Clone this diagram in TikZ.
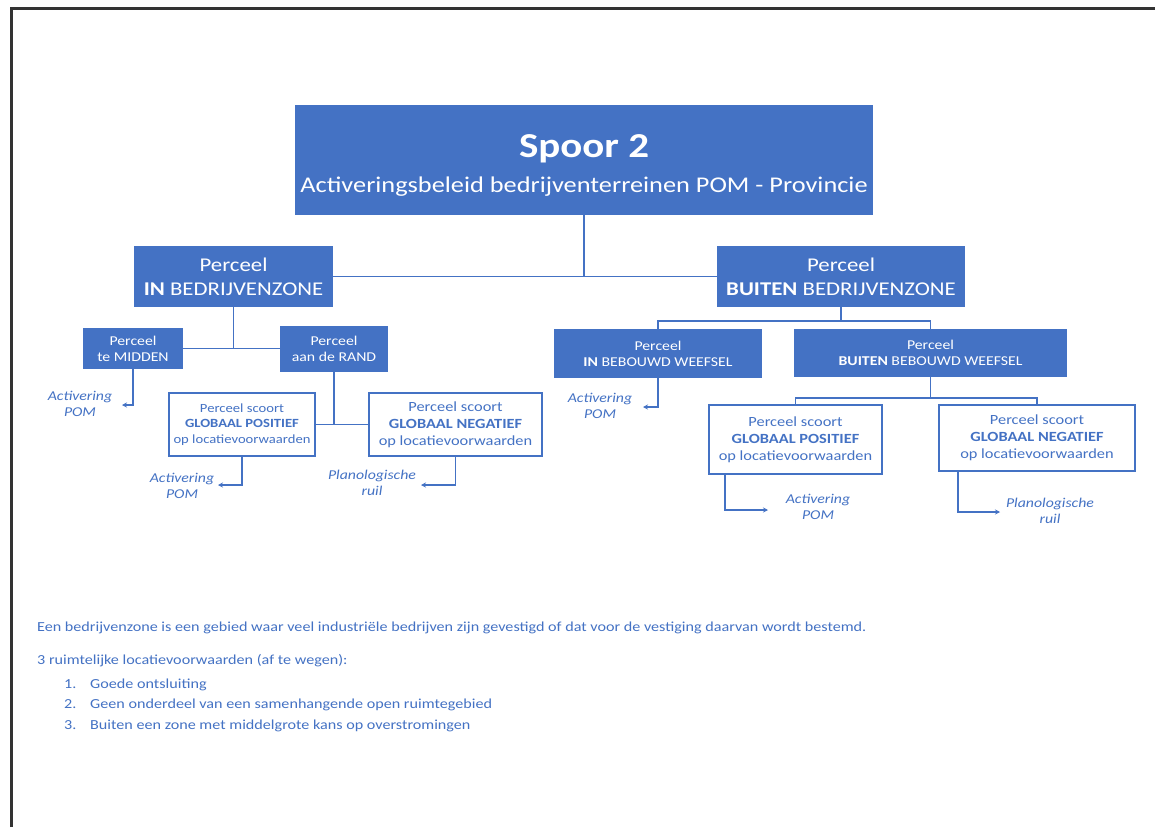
\documentclass[tikz,border=0pt]{standalone}
\usepackage{fontspec}
\setmainfont[FakeStretch=1.17]{Carlito}
\usetikzlibrary{arrows.meta}
\definecolor{pblue}{HTML}{4472C4}
\definecolor{frame}{HTML}{333333}
\begin{document}
\begin{tikzpicture}[x=1pt,y=-1pt,
  filled/.style={fill=pblue, text=white, inner sep=0pt, align=center},
  outlined/.style={draw=pblue, line width=2.5pt, fill=white, text=pblue, inner sep=0pt, align=center},
  conn/.style={draw=pblue, line width=1.5pt},
  arr/.style={conn, -{Stealth[length=5pt,width=5pt]}},
  lbl/.style={text=pblue, font=\itshape\fontsize{13.5}{16}\selectfont, align=center, inner sep=0pt},
  body/.style={text=pblue, anchor=base west, inner sep=0pt, font=\fontsize{13.8}{16}\selectfont}]
\useasboundingbox (0,0) rectangle (1155,827);
\fill[white] (0,0) rectangle (1155,827);
\draw[line width=3pt, color=frame] (11,827) -- (11,8) -- (1155,8);

% top box
\node[filled, minimum width=578pt, minimum height=110pt] (top) at (584,160)
  {{\rule{0pt}{33pt}\bfseries\fontsize{35}{40}\selectfont Spoor 2}\\[13pt]{\fontsize{22.5}{26}\selectfont Activeringsbeleid bedrijventerreinen POM - Provincie}};

% level 1
\node[filled, minimum width=199pt, minimum height=61pt, font=\fontsize{19.5}{24}\selectfont] (inzone) at (233.5,276.5)
  {Perceel\\\textbf{IN} BEDRIJVENZONE};
\node[filled, minimum width=248pt, minimum height=61pt, font=\fontsize{19.5}{24}\selectfont] (buitenzone) at (841,276.5)
  {Perceel\\\textbf{BUITEN} BEDRIJVENZONE};

% level 2 left
\node[filled, minimum width=100pt, minimum height=41pt, font=\fontsize{13.5}{16}\selectfont] (midden) at (133,348.5)
  {Perceel\\te MIDDEN};
\node[filled, minimum width=108pt, minimum height=46pt, font=\fontsize{13.5}{16}\selectfont] (rand) at (334,349)
  {Perceel\\aan de RAND};

% level 2 right
\node[filled, minimum width=208pt, minimum height=49pt, font=\fontsize{13.5}{16}\selectfont] (inbeb) at (658,353.5)
  {Perceel\\\textbf{IN} BEBOUWD WEEFSEL};
\node[filled, minimum width=273pt, minimum height=48pt, font=\fontsize{13.5}{16}\selectfont] (buitbeb) at (930.5,353)
  {Perceel\\\textbf{BUITEN} BEBOUWD WEEFSEL};

% level 3 left
\node[outlined, minimum width=146pt, minimum height=63pt, font=\fontsize{12.5}{15.5}\selectfont] (posL) at (242,424.5)
  {Perceel scoort\\\textbf{GLOBAAL POSITIEF}\\op locatievoorwaarden};
\node[outlined, minimum width=173pt, minimum height=63pt, font=\fontsize{14}{17}\selectfont] (negL) at (455.5,424.5)
  {Perceel scoort\\\textbf{GLOBAAL NEGATIEF}\\op locatievoorwaarden};

% level 3 right
\node[outlined, minimum width=173pt, minimum height=69pt, font=\fontsize{14}{17}\selectfont] (posR) at (795.5,439.5)
  {Perceel scoort\\\textbf{GLOBAAL POSITIEF}\\op locatievoorwaarden};
\node[outlined, minimum width=196pt, minimum height=66pt, font=\fontsize{14}{17}\selectfont] (negR) at (1037,438)
  {Perceel scoort\\\textbf{GLOBAAL NEGATIEF}\\op locatievoorwaarden};

% labels
\node[lbl] (lA) at (80,404) {Activering\\POM};
\node[lbl] (lB) at (182,486) {Activering\\POM};
\node[lbl] (lC) at (372,483) {Planologische\\ruil};
\node[lbl] (lD) at (600,406) {Activering\\POM};
\node[lbl] (lE) at (818,507) {Activering\\POM};
\node[lbl] (lF) at (1050,511) {Planologische\\ruil};

% connectors
\draw[conn] (top.south) -- (top.south |- inzone.east);
\draw[conn] (inzone.east) -- (buitenzone.west);
\draw[conn] (inzone.south) -- (inzone.south |- midden.east);
\draw[conn] (midden.east) -- (rand.west |- midden.east);
\draw[conn] (rand.south) -- (rand.south |- posL.east);
\draw[conn] (posL.east) -- (negL.west);

\coordinate (j1) at (841,321);
\draw[conn] (buitenzone.south) -- (j1);
\draw[conn] (inbeb.north) |- (j1) -| (buitbeb.north);
\coordinate (j2) at (930.5,398);
\draw[conn] (buitbeb.south) -- (j2);
\draw[conn] (posR.north) |- (j2) -| (negR.north);

% arrows
\coordinate (a1) at (122,405);
\draw[arr] (midden.south) |- (a1);
\coordinate (a2) at (218,485);
\draw[arr] (posL.south) |- (a2);
\coordinate (a3) at (421,485);
\draw[arr] (negL.south) |- (a3);
\coordinate (a4) at (643,407);
\draw[arr] (inbeb.south) |- (a4);
\coordinate (a5) at (768,510);
\draw[arr] ([xshift=17pt]posR.south west) |- (a5);
\coordinate (a6) at (1000,512);
\draw[arr] ([xshift=20pt]negR.south west) |- (a6);

% bottom text
\node[body] (t1) at (37,631) {Een bedrijvenzone is een gebied waar veel industriële bedrijven zijn gevestigd of dat voor de vestiging daarvan wordt bestemd.};
\node[body] (t2) at (37,664) {3 ruimtelijke locatievoorwaarden (af te wegen):};
\node[body] (n1) at (64,688) {1.};
\node[body] (i1) at (90,688) {Goede ontsluiting};
\node[body] (n2) at (64,708) {2.};
\node[body] (i2) at (90,708) {Geen onderdeel van een samenhangende open ruimtegebied};
\node[body] (n3) at (64,729) {3.};
\node[body] (i3) at (90,729) {Buiten een zone met middelgrote kans op overstromingen};
\end{tikzpicture}
\end{document}
